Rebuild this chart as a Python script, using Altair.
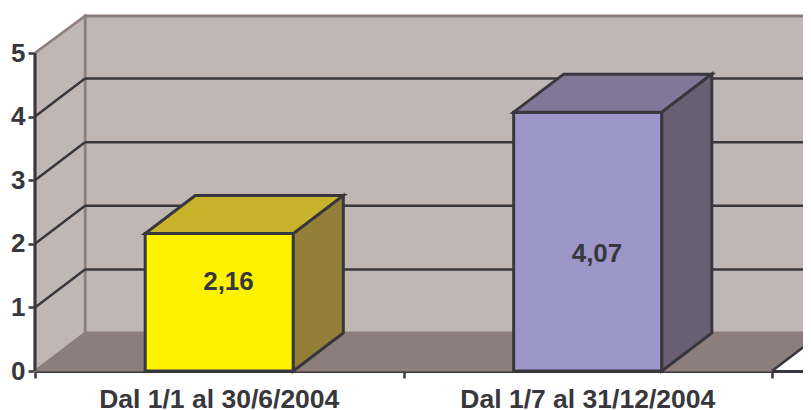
import altair as alt
import pandas as pd

categories = ["Dal 1/1 al 30/6/2004", "Dal 1/7 al 31/12/2004"]
values = [2.16, 4.07]
value_labels = ["2,16", "4,07"]
front_colors = ["#fff200", "#9d96c8"]
top_colors = ["#c8b32a", "#837799"]
side_colors = ["#937f38", "#6a5e72"]
y_ticks = [0, 1, 2, 3, 4, 5]

DX, DY = 50 / 368.5, 38 / 63.6
BAR_L, BAR_R = 0.299, 0.701
YMAX, XMAX = 355 / 63.6, 768 / 368.5
XOUT = XMAX + 1
DARK, EDGE, WALL = "#38373d", "#8c7f7b", "#c0b7b4"
FONT = "Liberation Sans"

x = alt.X("x:Q", scale=alt.Scale(domain=[0, XMAX], nice=False, zero=False),
          axis=alt.Axis(values=[0, 1, 2], labels=False, title=None, grid=False, ticks=True,
                        tickColor=DARK, tickWidth=2.5, tickSize=7, domainColor=DARK, domainWidth=3))
y = alt.Y("y:Q", scale=alt.Scale(domain=[0, YMAX], nice=False),
          axis=alt.Axis(values=y_ticks, format="d", title=None, grid=False, ticks=True, domain=True,
                        domainColor="transparent",
                        tickColor=DARK, tickWidth=2.5, tickSize=7, labelFont=FONT, labelFontWeight="bold",
                        labelFontSize=26, labelColor=DARK, labelPadding=3))


def poly(points, fill, stroke, sw):
    df = pd.DataFrame(points, columns=["x", "y", "y2"])
    return alt.Chart(df).mark_area(fill=fill, stroke=stroke, strokeWidth=sw, strokeJoin="miter",
                                   opacity=1).encode(x=x, y=y, y2="y2:Q")


def seg(x1, x2, y1, y2, color=DARK, sw=2.5):
    df = pd.DataFrame({"x": x1, "x2": x2, "y": y1, "y2": y2})
    return alt.Chart(df).mark_rule(color=color, strokeWidth=sw).encode(x=x, x2="x2:Q", y=y, y2="y2:Q")


inner = [t for t in y_ticks if 0 < t < 5]
layers = [
    poly([(DX, DY, YMAX), (XOUT, DY, YMAX)], WALL, EDGE, 3),
    poly([(0, 0, 5), (DX, DY, YMAX)], WALL, EDGE, 2.5),
    poly([(0, 0, 0), (DX, 0, DY), (2, 0, DY), (2 + DX, DY, DY)], EDGE, EDGE, 1),
    seg([0.0] * 4, [DX] * 4, inner, [t + DY for t in inner]),
    seg([DX] * 4, [XOUT] * 4, [t + DY for t in inner], [t + DY for t in inner]),
    seg([2], [2 + DX], [0], [DY]),
    # the value axis line stands over the walls
    seg([0], [0], [0], [5], DARK, 3),
]

for i, v in enumerate(values):
    l, r = BAR_L + i, BAR_R + i
    layers.append(poly([(l, 0, v), (r, 0, v)], front_colors[i], DARK, 3))
    layers.append(poly([(l, v, v), (l + DX, v, v + DY), (r, v, v + DY), (r + DX, v + DY, v + DY)],
                       top_colors[i], DARK, 3))
    layers.append(poly([(r, 0, v), (r + DX, DY, v + DY)], side_colors[i], DARK, 3))

labels = pd.DataFrame({"x": [0.5, 1.5], "y": [-0.45, -0.45], "t": categories})
layers.append(alt.Chart(labels).mark_text(font=FONT, fontWeight="bold", fontSize=26.5, color=DARK,
                                          baseline="middle", clip=False).encode(x=x, y=y, text="t:N"))

value_x = [0.525, 1.525]
value_y = [1.40, 1.84]
vals = pd.DataFrame({"x": value_x, "y": value_y, "t": value_labels})
layers.append(alt.Chart(vals).mark_text(font=FONT, fontWeight="bold", fontSize=26, color=DARK,
                                        baseline="middle").encode(x=x, y=y, text="t:N"))

chart = alt.layer(*layers).properties(
    width=768, height=355,
    padding={"left": 27, "top": 8, "right": 0, "bottom": 39},
    autosize=alt.AutoSizeParams(type="none"),
    background="white",
).configure_view(stroke=None).configure_axis(labelOverlap=False)

chart.save("out.html", embed_options={"renderer": "svg", "actions": False})
